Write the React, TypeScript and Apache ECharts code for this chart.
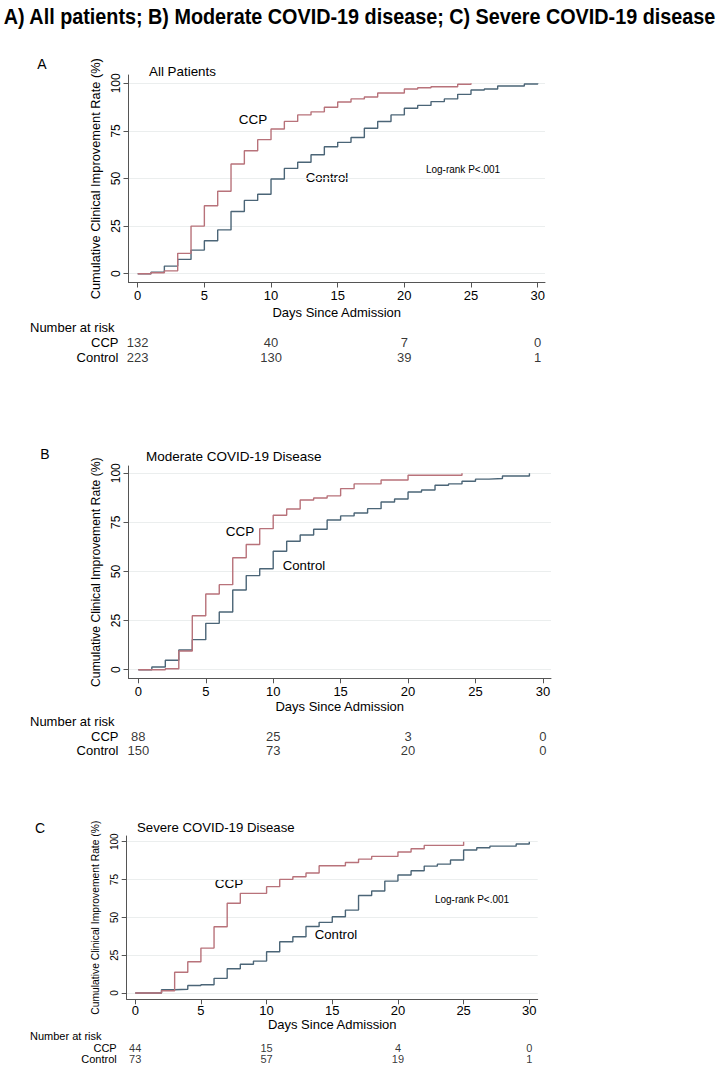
import React, { useEffect, useRef } from "react";
import * as echarts from "echarts";

// ---- Data (value at day index 0,1,2,...) ----
const A_CCP = [0, 0.5, 1.5, 10.7, 25, 35.7, 43.3, 57.6, 64.6, 70.4, 76, 80, 83.4, 85, 87.4, 90.2, 91.8, 92.8, 94.9, 94.9, 97, 97.7, 98.2, 98.2, 99.5, 100];
const A_CTL = [0, 0.8, 4, 7.5, 12.4, 17.3, 23, 32.7, 38.5, 41.7, 49.7, 55.3, 58.5, 62.5, 66.7, 69, 71.5, 76.4, 79.9, 83.4, 86.9, 88.4, 90.4, 91.8, 94.2, 96.5, 97, 98.6, 98.6, 99.6, 100];
const B_CCP = [0, 0, 0.5, 9.5, 27.5, 38.5, 43.3, 57, 63.7, 71.8, 78.6, 81.8, 86.4, 87.4, 88.5, 92.2, 94.6, 94.6, 96.6, 96.6, 99, 99, 99, 99, 100];
const B_CTL = [0, 1.4, 4.8, 10, 15.3, 23.6, 29.4, 40.6, 47.9, 51.4, 60.3, 65.4, 68.6, 71.5, 76.2, 78.3, 79.8, 82, 85.4, 86.9, 90.5, 91.5, 93.9, 94.6, 95.9, 97, 97.3, 98.6, 98.6, 100];
const C_CCP = [0, 0, 1.5, 13.7, 20.7, 29.7, 43.8, 59.3, 65.9, 65.9, 70.3, 75.1, 76.9, 79.3, 84.1, 84.1, 86.3, 88.5, 90.3, 90.3, 93.2, 95.4, 97.6, 97.6, 97.6, 100];
const C_CTL = [0, 0, 2.2, 2.5, 5, 5.5, 9.7, 16, 19, 21.1, 27.3, 33.9, 37.2, 44, 46.7, 50.4, 54.8, 64.5, 67.4, 74, 78, 80.8, 83.9, 85.2, 87.9, 94.5, 96, 97.1, 97.1, 98.5, 100];

const X_TICKS = [0, 5, 10, 15, 20, 25, 30];
const Y_TICKS = [0, 25, 50, 75, 100];
const RISK_DAYS = [0, 10, 20, 30];
const RISK_GROUPS = ["CCP", "Control"];
const A_RISK_CCP = [132, 40, 7, 0];
const A_RISK_CTL = [223, 130, 39, 1];
const B_RISK_CCP = [88, 25, 3, 0];
const B_RISK_CTL = [150, 73, 20, 0];
const C_RISK_CCP = [44, 15, 4, 0];
const C_RISK_CTL = [73, 57, 19, 1];

const MAIN_TITLE = "A) All patients; B) Moderate COVID-19 disease; C) Severe COVID-19 disease";
const Y_NAME = "Cumulative Clinical Improvement Rate (%)";
const X_NAME = "Days Since Admission";

const FONT = '"Liberation Sans", Arial, Helvetica, sans-serif';
const CCP_COLOR = "#b8727a";
const CTL_COLOR = "#4b6577";
const AXIS_COLOR = "#555555";

const panels = [
  {
    letter: "A", letterPos: [42, 64], sub: "All Patients", subPos: [149, 71], subSize: 13.4,
    ccp: A_CCP, ctl: A_CTL, riskCcp: A_RISK_CCP, riskCtl: A_RISK_CTL,
    grid: { left: 128.5, top: 75, width: 416.5, height: 207.5 },
    xMin: -0.69, xMax: 30.55, yMin: -4.62, yMax: 104.36,
    yLabelSize: 12, yNameSize: 12.8, yNameGap: 25, xLabelMargin: 6, xNameGap: 23,
    table: { left: 128.5, top: 334.5, width: 416.5, height: 30 }, riskTitleY: 327, tableFont: 13,
    ccpLabel: [253, 119], ctlLabel: [327, 177], logrank: [463, 169],
  },
  {
    letter: "B", letterPos: [45, 454], sub: "Moderate COVID-19 Disease", subPos: [146, 456], subSize: 13.5,
    ccp: B_CCP, ctl: B_CTL, riskCcp: B_RISK_CCP, riskCtl: B_RISK_CTL,
    grid: { left: 128.5, top: 466, width: 422.5, height: 212.3 },
    xMin: -0.73, xMax: 30.6, yMin: -4.38, yMax: 103.7,
    yLabelSize: 12, yNameSize: 12.2, yNameGap: 25, xLabelMargin: 6.5, xNameGap: 22,
    table: { left: 128.5, top: 729, width: 422.5, height: 28 }, riskTitleY: 721, tableFont: 13,
    ccpLabel: [240, 531], ctlLabel: [304, 565], logrank: null,
  },
  {
    letter: "C", letterPos: [40, 828], sub: "Severe COVID-19 Disease", subPos: [137, 827], subSize: 13.2,
    ccp: C_CCP, ctl: C_CTL, riskCcp: C_RISK_CCP, riskCtl: C_RISK_CTL,
    grid: { left: 126.7, top: 836, width: 411, height: 163.3 },
    xMin: -0.65, xMax: 30.64, yMin: -4.16, yMax: 103.8,
    yLabelSize: 10, yNameSize: 10.3, yNameGap: 26, xLabelMargin: 4.5, xNameGap: 17,
    table: { left: 126.7, top: 1041.9, width: 411, height: 23.2 }, riskTitleY: 1035.5, tableFont: 11,
    ccpLabel: [229, 883], ctlLabel: [336, 934], logrank: [472, 899],
  },
];

function txt(text: string, x: number, y: number, size: number, align = "left", extra: any = {}) {
  return {
    type: "text",
    x,
    y,
    silent: true,
    ...extra,
    style: {
      text,
      fill: "#000",
      fontSize: size,
      fontFamily: FONT,
      align,
      textAlign: align,
      verticalAlign: "middle",
      textVerticalAlign: "middle",
      ...(extra.style || {}),
    },
  };
}

export default function App() {
  const ref = useRef<HTMLDivElement>(null);

  useEffect(() => {
    if (!ref.current) return;
    const chart = echarts.init(ref.current, undefined, { renderer: "svg" });

    const grids: any[] = [];
    const xAxes: any[] = [];
    const yAxes: any[] = [];
    const series: any[] = [];
    const graphics: any[] = [];

    graphics.push(
      txt(MAIN_TITLE, 359.5, 16, 22, "center", { scaleX: 0.9, style: { fontWeight: "bold" } })
    );

    panels.forEach((p, i) => {
      grids.push({ ...p.grid, containLabel: false });
      xAxes.push({
        type: "value",
        gridIndex: i,
        min: p.xMin,
        max: p.xMax,
        name: X_NAME,
        nameLocation: "middle",
        nameGap: p.xNameGap,
        nameTextStyle: { color: "#000", fontSize: 13, fontFamily: FONT },
        axisLine: { show: true, onZero: false, lineStyle: { color: AXIS_COLOR, width: 1 } },
        axisTick: { show: true, length: 5, customValues: X_TICKS, lineStyle: { color: AXIS_COLOR } },
        axisLabel: { customValues: X_TICKS, color: "#000", fontSize: 13, fontFamily: FONT, margin: p.xLabelMargin },
        splitLine: { show: false },
      });
      yAxes.push({
        type: "value",
        gridIndex: i,
        min: p.yMin,
        max: p.yMax,
        name: Y_NAME,
        nameLocation: "middle",
        nameGap: p.yNameGap,
        nameTextStyle: { color: "#000", fontSize: p.yNameSize, fontFamily: FONT },
        axisLine: { show: true, onZero: false, lineStyle: { color: AXIS_COLOR, width: 1 } },
        axisTick: { show: true, length: 5, customValues: Y_TICKS, lineStyle: { color: AXIS_COLOR } },
        axisLabel: { customValues: Y_TICKS, rotate: 90, color: "#000", fontSize: p.yLabelSize, fontFamily: FONT, margin: 7 },
        splitLine: { show: true, lineStyle: { color: "#ebeeee", width: 1 } },
      });
      series.push({
        type: "line",
        name: "CCP",
        xAxisIndex: i,
        yAxisIndex: i,
        step: "end",
        symbol: "none",
        silent: true,
        data: p.ccp.map((v, d) => [d, v]),
        lineStyle: { color: CCP_COLOR, width: 1.4 },
        itemStyle: { color: CCP_COLOR },
        z: 3,
      });
      series.push({
        type: "line",
        name: "Control",
        xAxisIndex: i,
        yAxisIndex: i,
        step: "end",
        symbol: "none",
        silent: true,
        data: p.ctl.map((v, d) => [d, v]),
        lineStyle: { color: CTL_COLOR, width: 1.4 },
        itemStyle: { color: CTL_COLOR },
        z: 2,
      });

      graphics.push(txt(p.letter, p.letterPos[0], p.letterPos[1], 14, "center"));
      graphics.push(txt(p.sub, p.subPos[0], p.subPos[1], p.subSize, "left"));
      graphics.push(txt("CCP", p.ccpLabel[0], p.ccpLabel[1], 13.5, "center"));
      graphics.push(txt("Control", p.ctlLabel[0], p.ctlLabel[1], 13.2, "center"));
      if (p.logrank) graphics.push(txt("Log-rank P<.001", p.logrank[0], p.logrank[1], 10, "center"));
      graphics.push(txt("Number at risk", 30, p.riskTitleY, p.tableFont, "left"));
    });

    panels.forEach((p, i) => {
      const gi = 3 + i;
      grids.push({ ...p.table, containLabel: false });
      xAxes.push({ type: "value", gridIndex: gi, min: p.xMin, max: p.xMax, show: false });
      yAxes.push({
        type: "category",
        gridIndex: gi,
        data: RISK_GROUPS,
        inverse: true,
        axisLine: { show: false },
        axisTick: { show: false },
        splitLine: { show: false },
        axisLabel: { interval: 0, color: "#000", fontSize: p.tableFont, fontFamily: FONT, margin: 10 },
      });
      const rows = [p.riskCcp, p.riskCtl];
      const data: any[] = [];
      rows.forEach((row, r) => {
        row.forEach((n, k) => data.push([RISK_DAYS[k], RISK_GROUPS[r], n]));
      });
      series.push({
        type: "scatter",
        xAxisIndex: gi,
        yAxisIndex: gi,
        symbolSize: 1,
        silent: true,
        itemStyle: { color: "rgba(0,0,0,0)" },
        data,
        label: {
          show: true,
          position: "inside",
          formatter: (prm: any) => String(prm.value[2]),
          color: "#000",
          fontSize: p.tableFont,
          fontFamily: FONT,
        },
      });
    });

    chart.setOption({
      animation: false,
      backgroundColor: "#ffffff",
      textStyle: { fontFamily: FONT },
      grid: grids,
      xAxis: xAxes,
      yAxis: yAxes,
      series,
      graphic: graphics,
    });

    return () => chart.dispose();
  }, []);

  return (
    <div
      ref={ref}
      style={{ position: "absolute", left: 0, top: 0, width: 719, height: 1070, background: "#fff" }}
    />
  );
}
